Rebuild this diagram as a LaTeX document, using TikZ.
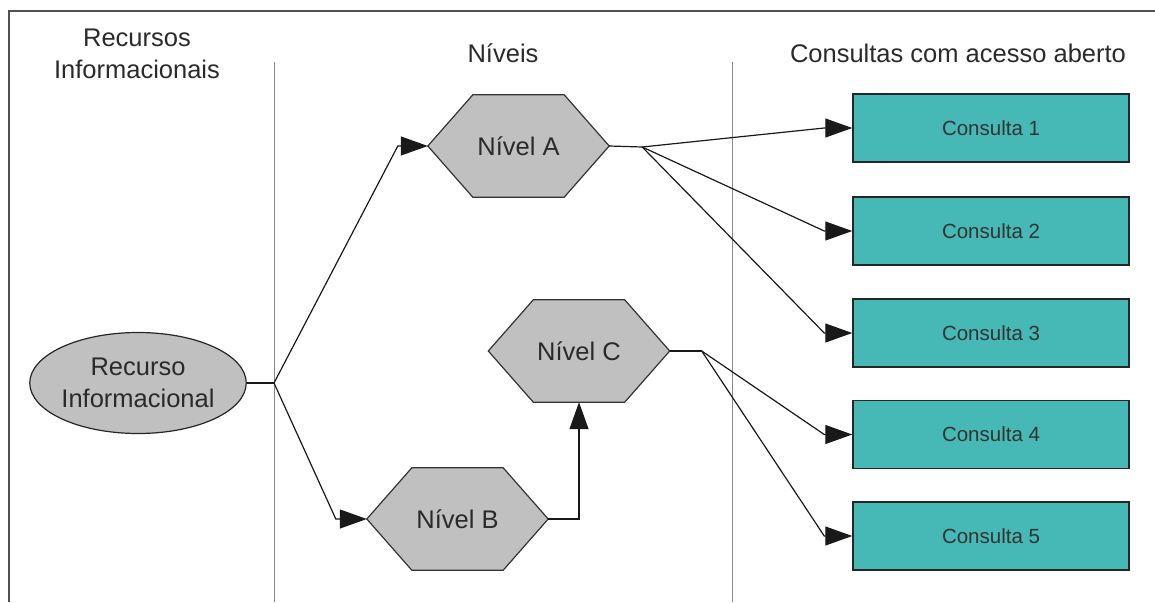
\documentclass[tikz,border=0pt]{standalone}
\usepackage{fontspec}
\setmainfont{Liberation Sans}
\usetikzlibrary{shapes.geometric,arrows.meta,backgrounds}
\definecolor{tealbox}{HTML}{46B8B5}
\definecolor{hexgray}{HTML}{C0C0C0}
\definecolor{txtc}{HTML}{2A2A2A}
\definecolor{framec}{HTML}{505050}
\definecolor{sepc}{HTML}{8A8A8A}
\begin{document}
\begin{tikzpicture}[x=1pt,y=-1pt,
  bigtxt/.style={font=\fontsize{25.5}{32}\selectfont, text=txtc},
  hdr/.style={bigtxt, align=center},
  hexnode/.style={bigtxt, minimum width=181pt, minimum height=102pt, inner sep=0pt},
  hexshape/.style={fill=hexgray, draw=black!80, line width=1.2pt, line join=miter},
  ellnode/.style={ellipse, bigtxt, align=center, fill=hexgray, draw=black!85, line width=1.2pt, minimum width=214pt, minimum height=101pt, inner sep=0pt},
  consbox/.style={rectangle, fill=tealbox, draw=black!85, line width=1.5pt, minimum width=276pt, minimum height=68pt, inner sep=0pt, font=\fontsize{20.5}{24}\selectfont, text=black!80},
  conn/.style={draw=black!90, line width=1.2pt},
  arr/.style={conn, -{Triangle[length=27pt,width=19pt]}},
]
\useasboundingbox (0,0) rectangle (1155,602);
% frame
\draw[framec, line width=1.2pt] (9,602) -- (9,11) -- (1155,11);
% separators
\draw[sepc, line width=1pt] (274,62) -- (274,602);
\draw[sepc, line width=1pt] (732,62) -- (732,602);
% headers
\node[hdr] (h1) at (137,54) {Recursos\\Informacionais};
\node[bigtxt, anchor=base] (h2) at (503,63) {Níveis};
\node[bigtxt, anchor=base] (h3) at (958,63) {Consultas com acesso aberto};
% nodes
\node[ellnode] (R) at (138,383) {Recurso\\Informacional};
\node[hexnode] (A) at (518.5,146) {Nível A};
\node[hexnode] (B) at (457.5,519) {Nível B};
\node[hexnode] (C) at (579,351) {Nível C};
\begin{scope}[on background layer]
\foreach \h in {A,B,C}{
  \path[hexshape] (\h.west) -- ([xshift=45pt]\h.north west) -- ([xshift=-45pt]\h.north east) -- (\h.east) -- ([xshift=-45pt]\h.south east) -- ([xshift=45pt]\h.south west) -- cycle;
}
\end{scope}
\node[consbox] (c1) at (991,128) {Consulta 1};
\node[consbox] (c2) at (991,231) {Consulta 2};
\node[consbox] (c3) at (991,333) {Consulta 3};
\node[consbox] (c4) at (991,434.5) {Consulta 4};
\node[consbox] (c5) at (991,536) {Consulta 5};
% connectors
\coordinate (j0) at (274,383);
\draw[conn] (R.east) -- (j0);
\draw[arr] (j0) -- ([xshift=-30pt]A.west) -- (A.west);
\draw[arr] (j0) -- ([xshift=-31pt]B.west) -- (B.west);
\draw[arr] (B.east) -- (B.east -| C.south) -- (C.south);
\coordinate (jA) at ([xshift=33pt,yshift=-1pt]A.east);
\draw[conn] (A.east) -- (jA);
\foreach \c in {c1,c2,c3}{
  \draw[arr] (jA) -- ([xshift=-28pt]\c.west) -- (\c.west);
}
\coordinate (jC) at ([xshift=32pt]C.east);
\draw[conn] (C.east) -- (jC);
\foreach \c in {c4,c5}{
  \draw[arr] (jC) -- ([xshift=-28pt]\c.west) -- (\c.west);
}
\end{tikzpicture}
\end{document}
